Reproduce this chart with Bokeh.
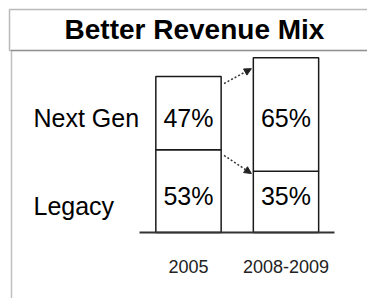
from bokeh.plotting import figure
from bokeh.models import (ColumnDataSource, Range1d, LinearAxis, FixedTicker, Arrow,
                          NormalHead, BoxAnnotation, Label, LabelSet)
from bokeh.core.properties import value
from bokeh.embed import file_html
from bokeh.resources import INLINE

# ---- data ----
categories = ["2005", "2008-2009"]
legacy_share = [53, 35]        # %
nextgen_share = [47, 65]       # %
revenue_index = [100, 112]     # relative total revenue (bar heights)
series_names = ["Next Gen", "Legacy"]
title_text = "Better Revenue Mix"

# ---- derived ----
xs = list(range(len(categories)))
legacy_val = [t * s / 100 for t, s in zip(revenue_index, legacy_share)]
next_val = [t * s / 100 for t, s in zip(revenue_index, nextgen_share)]
src = ColumnDataSource(dict(x=xs, legacy=legacy_val, nextgen=next_val))

W, H = 367, 298
BAR_W = 0.67
FONT = "Liberation Sans"

p = figure(width=W, height=H, output_backend="svg", toolbar_location=None,
           x_axis_type=None, y_axis_type=None,
           x_range=Range1d(-1.928, 1.836), y_range=Range1d(-42.3, 148.7),
           min_border=0, outline_line_color=None, background_fill_color="white",
           border_fill_color="white")

p.vbar_stack(["legacy", "nextgen"], x="x", width=BAR_W, source=src,
             fill_color="white", line_color="#1a1a1a", line_width=1.5)

ax = LinearAxis(fixed_location=0, bounds=(xs[0] - 0.5, xs[-1] + 0.5),
                ticker=FixedTicker(ticks=xs),
                major_label_overrides={x: c for x, c in zip(xs, categories)},
                axis_line_color="#333333", axis_line_width=2,
                major_tick_line_color=None, minor_tick_line_color=None,
                major_label_text_font=FONT, major_label_text_font_size="18px",
                major_label_text_color="#222222", major_label_standoff=21)
p.add_layout(ax, "below")

TOP_ROW_Y, BOTTOM_ROW_Y = 73.1, 23.1
pct = ColumnDataSource(dict(
    x=xs + xs,
    y=[TOP_ROW_Y] * len(xs) + [BOTTOM_ROW_Y] * len(xs),
    t=[f"{v}%" for v in nextgen_share] + [f"{v}%" for v in legacy_share]))
p.text(x="x", y="y", text="t", source=pct, text_align="center",
       text_baseline="middle", text_font=value(FONT), text_font_size="25px",
       text_color="black")

rows = ColumnDataSource(dict(x=[33, 33], y=[73.7, 16.7], t=series_names))
p.add_layout(LabelSet(x="x", y="y", text="t", source=rows, x_units="screen",
                      text_align="left", text_baseline="middle",
                      text_font=value(FONT), text_font_size="25px", text_color="black"))

half = BAR_W / 2
arr = ColumnDataSource(dict(
    x0=[xs[0] + half + 0.03] * 2,
    x1=[xs[1] - half - 0.02] * 2,
    y0=[revenue_index[0] - 4.5, legacy_val[0] - 3.6],
    y1=[revenue_index[1] - 7.0, legacy_val[1] - 1.4]))
p.add_layout(Arrow(x_start="x0", y_start="y0", x_end="x1", y_end="y1", source=arr,
                   line_dash="2 2", line_width=1.5, line_color="#333333",
                   end=NormalHead(size=7, fill_color="#222222", line_color="#222222")))

# frames (screen units: y measured from the bottom of the frame)
def sy(top_px):
    return H - top_px

p.add_layout(BoxAnnotation(left=9, right=W + 20, top=sy(9), bottom=sy(50),
                           left_units="screen", right_units="screen",
                           top_units="screen", bottom_units="screen",
                           fill_alpha=0, line_color="#1a1a1a", line_width=1.5))
p.add_layout(BoxAnnotation(left=11, right=W + 20, top=sy(50), bottom=sy(H + 20),
                           left_units="screen", right_units="screen",
                           top_units="screen", bottom_units="screen",
                           fill_alpha=0, line_color="#333333", line_width=1.5))

p.add_layout(Label(x=194, y=sy(29), x_units="screen", y_units="screen", text=title_text,
                   text_align="center", text_baseline="middle", text_font=FONT,
                   text_font_size="28px", text_font_style="bold", text_color="black"))

open("out.html", "w").write(file_html(p, INLINE))
